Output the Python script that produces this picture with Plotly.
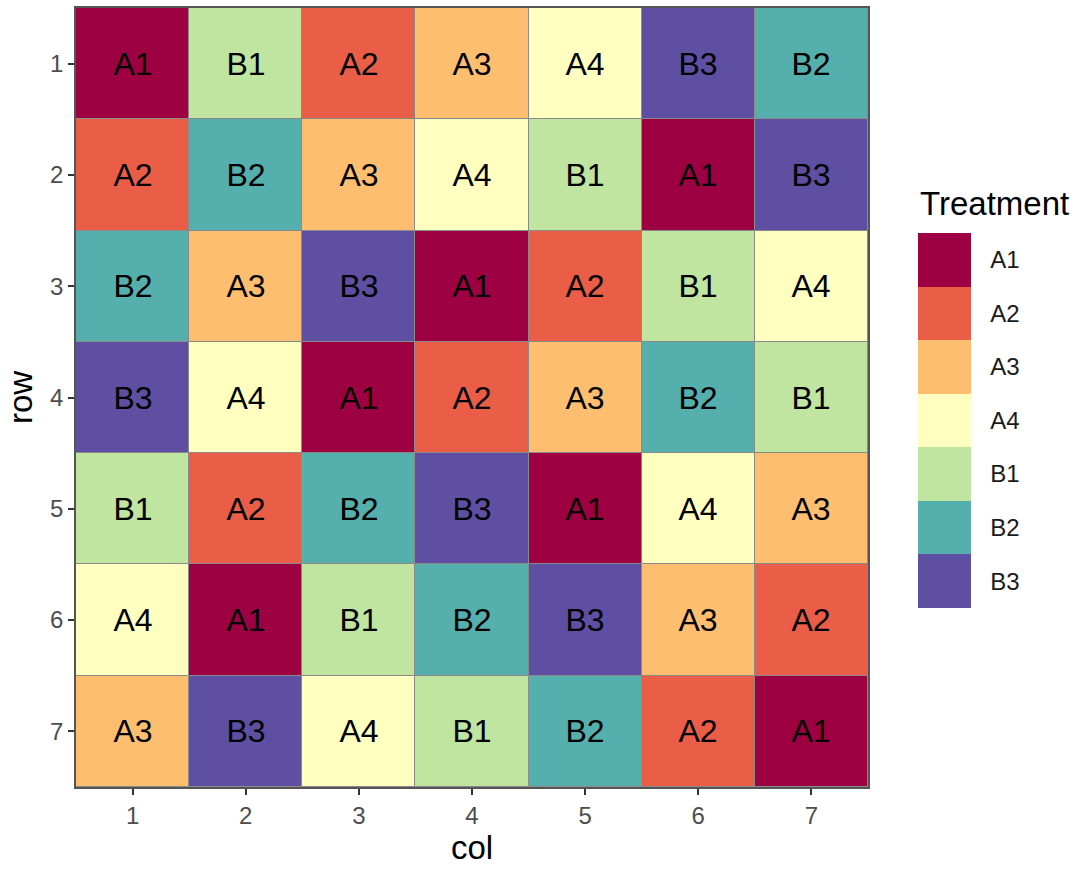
import plotly.graph_objects as go

treatments = ["A1", "A2", "A3", "A4", "B1", "B2", "B3"]
colors = ["#9E0142", "#EA5D47", "#FDBF6F", "#FFFFBF", "#BFE5A0", "#55AFAD", "#5E4FA2"]
cols = [1, 2, 3, 4, 5, 6, 7]
rows = [1, 2, 3, 4, 5, 6, 7]
layout_grid = [
    ["A1", "B1", "A2", "A3", "A4", "B3", "B2"],
    ["A2", "B2", "A3", "A4", "B1", "A1", "B3"],
    ["B2", "A3", "B3", "A1", "A2", "B1", "A4"],
    ["B3", "A4", "A1", "A2", "A3", "B2", "B1"],
    ["B1", "A2", "B2", "B3", "A1", "A4", "A3"],
    ["A4", "A1", "B1", "B2", "B3", "A3", "A2"],
    ["A3", "B3", "A4", "B1", "B2", "A2", "A1"],
]

n = len(treatments)
# z value: top of colorbar = first treatment
z = [[n - 1 - treatments.index(t) for t in r] for r in layout_grid]
colorscale = []
for k in range(n):
    c = colors[n - 1 - k]
    colorscale.append([k / n, c])
    colorscale.append([(k + 1) / n, c])

FONT = "Liberation Sans, Arial, sans-serif"
W, H = 1081, 869

fig = go.Figure(go.Heatmap(
    x=cols, y=rows, z=z, text=layout_grid,
    texttemplate="%{text}", textfont=dict(size=32, color="#000000", family=FONT),
    colorscale=colorscale, zmin=-0.5, zmax=n - 0.5,
    xgap=1, ygap=1, hoverinfo="text",
    colorbar=dict(
        tickvals=[n - 1 - i for i in range(n)], ticktext=treatments,
        tickfont=dict(size=24, color="#1a1a1a", family=FONT),
        ticks="outside", ticklen=15, tickcolor="rgba(0,0,0,0)",
        thickness=53, thicknessmode="pixels",
        len=375, lenmode="pixels",
        xref="container", x=918 / W, xanchor="left", xpad=0,
        yref="container", y=(H - 469) / H, yanchor="middle", ypad=0,
        outlinewidth=0,
    ),
))

fig.add_annotation(
    text="Treatment", xref="paper", yref="paper",
    x=(918 - 76) / (868 - 76), y=(787 - 202) / (787 - 6),
    xanchor="left", yanchor="middle", showarrow=False,
    font=dict(size=33, color="#000000", family=FONT),
)

fig.update_layout(
    width=W, height=H,
    margin=dict(l=76, r=213, t=6, b=82),
    plot_bgcolor="#8a8a8a", paper_bgcolor="#ffffff",
    font=dict(family=FONT),
)
fig.update_xaxes(
    range=[0.5, 7.5], tickvals=cols, ticktext=[str(c) for c in cols],
    ticks="outside", ticklen=6, tickcolor="#333333", tickwidth=1.5,
    tickfont=dict(size=24, color="#4D4D4D", family=FONT),
    showgrid=False, zeroline=False, showline=True, linecolor="#555555", linewidth=1.5, mirror=True,
    title=dict(text="col", font=dict(size=33, color="#000000", family=FONT), standoff=8),
)
fig.update_yaxes(
    range=[7.5, 0.5], tickvals=rows, ticktext=[str(r) for r in rows],
    ticks="outside", ticklen=6, tickcolor="#333333", tickwidth=1.5,
    tickfont=dict(size=24, color="#4D4D4D", family=FONT),
    showgrid=False, zeroline=False, showline=True, linecolor="#555555", linewidth=1.5, mirror=True,
    title=dict(text="row", font=dict(size=33, color="#000000", family=FONT), standoff=8),
)

fig.write_html("out.html", config={"displayModeBar": False},
               post_script="document.body.style.margin='0';")
